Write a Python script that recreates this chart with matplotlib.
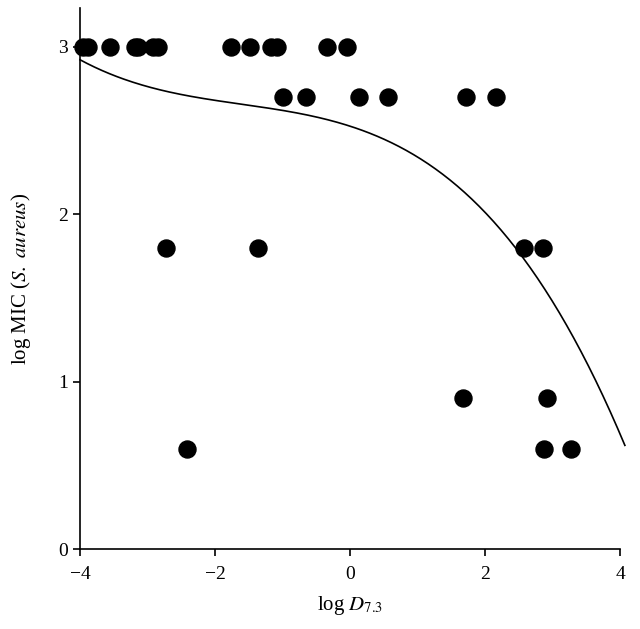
import numpy as np
import matplotlib
matplotlib.use('Agg')
import matplotlib.pyplot as plt

# scatter data
x_pts = [-3.95, -3.88, -3.56, -3.19, -3.14, -2.92, -2.85, -1.76, -1.48, -1.17, -1.08, -0.34, -0.04,
         -1.0, -0.65, 0.13, 0.56, 1.72, 2.16,
         -2.73, -1.36, 2.58, 2.86,
         1.67, 2.92,
         -2.41, 2.87, 3.27]
y_pts = [3.0] * 13 + [2.7] * 6 + [1.8] * 4 + [0.9] * 2 + [0.6] * 3

# cubic trend line coefficients (highest power first), estimated from the figure
fit_coef = [-0.00935, -0.04508, -0.12991, 2.52536]
fit_range = [-4.0, 4.07]

plt.rcParams['font.family'] = 'Liberation Serif'
plt.rcParams['mathtext.fontset'] = 'stix'

fig = plt.figure(figsize=(6.4, 6.29), dpi=100, facecolor='white')
ax = fig.add_axes([0.125, 0.127, 0.844, 0.86])

ax.scatter(x_pts, y_pts, s=150, color='black', zorder=3, clip_on=False)

xx = np.linspace(fit_range[0], fit_range[1], 300)
ax.plot(xx, np.polyval(fit_coef, xx), color='black', lw=1.2, clip_on=False)

ax.set_xlim(-4, 4)
ax.set_ylim(0, 3.23)
ax.set_xticks([-4, -2, 0, 2, 4])
ax.set_xticklabels(['\u22124', '\u22122', '0', '2', '4'])
ax.set_yticks([0, 1, 2, 3])
for s in ['top', 'right']:
    ax.spines[s].set_visible(False)
for s in ['left', 'bottom']:
    ax.spines[s].set_linewidth(1.2)
ax.tick_params(direction='out', length=5, width=1.2, labelsize=14)
ax.tick_params(axis='x', pad=7)
ax.set_xlabel(r'log $D_{\mathrm{7.3}}$', fontsize=15, labelpad=8)
ax.set_ylabel(r'log MIC ($S.\ aureus$)', fontsize=15, labelpad=18)

plt.savefig('out.png', dpi=100)
